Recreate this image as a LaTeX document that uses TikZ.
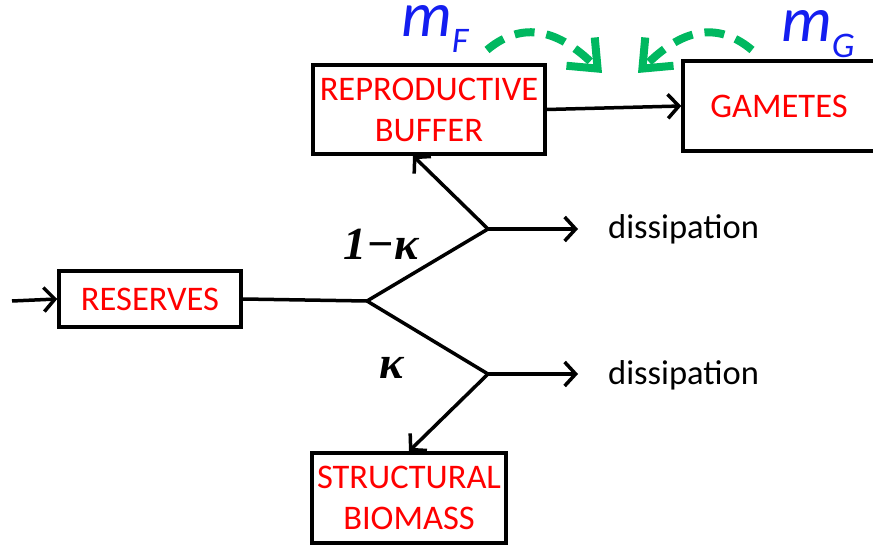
\documentclass[tikz,border=0pt]{standalone}
\usepackage{fontspec}
\setmainfont{Carlito}
\newfontfamily\kfont{Liberation Serif}
\usetikzlibrary{arrows.meta}
\definecolor{boxred}{RGB}{255,0,0}
\definecolor{mblue}{RGB}{20,30,240}
\definecolor{dgreen}{RGB}{0,184,96}
\tikzset{
  box/.style={draw=black, line width=3.5pt, fill=white, inner sep=0pt, align=center,
    text=boxred, font=\fontsize{34.5}{41}\selectfont},
  arr/.style={line width=3.5pt, -{Straight Barb[length=11pt,width=24pt,line width=3.5pt]}},
  conn/.style={line width=3.5pt},
  disstext/.style={inner sep=0pt, anchor=west, font=\fontsize{34.5}{41}\selectfont},
  klabel/.style={inner sep=0pt, anchor=base, font=\kfont\bfseries\itshape\fontsize{46}{46}\selectfont},
  garr/.style={dgreen, line width=8pt, dash pattern=on 20pt off 12pt,
    -{Straight Barb[length=24pt,width=40pt,line width=8pt]}},
  mlabel/.style={inner sep=0pt, anchor=base west, text=mblue}
}
\begin{document}
\begin{tikzpicture}[x=1pt,y=-1pt]
\useasboundingbox (0,0) rectangle (873,545);
% boxes
\node[box, minimum width=232pt, minimum height=89pt] (buf) at (429,109.5) {REPRODUCTIVE\\BUFFER};
\node[box, minimum width=192pt, minimum height=90pt] (gam) at (779,106) {GAMETES};
\node[box, minimum width=182pt, minimum height=56pt] (res) at (150,299) {RESERVES};
\node[box, minimum width=194pt, minimum height=90pt] (str) at (409,498) {STRUCTURAL\\BIOMASS};
% branch points
\coordinate (b0) at (367,301);
\coordinate (bu) at (488,229);
\coordinate (bd) at (488,374);
\coordinate (in) at (12,301);
\coordinate (e1) at (578,229);
\coordinate (e2) at (578,374);
% connectors
\draw[arr] (in) -- (res.west);
\draw[conn] (res.east) -- (b0);
\draw[conn, line join=round] (bu) -- (b0) -- (bd);
\draw[arr] (bu) -- (e1);
\draw[arr] (bd) -- (e2);
\draw[arr] (bu) -- ([xshift=-16pt]buf.south);
\draw[arr] (bd) -- (str.north);
\draw[arr] (buf.east) -- (gam.west);
% labels
\node[disstext] (d1) at (608,229) {dissipation};
\node[disstext] (d2) at (608,375) {dissipation};
\node[klabel] (k1) at (381,260) {1−κ};
\node[klabel] (k2) at (392,378) {κ};
% m labels
\node[mlabel] (mf) at (401,37) {\fontsize{64}{64}\selectfont\itshape\smash{m}\raisebox{-16pt}{\fontsize{36}{36}\selectfont\itshape F}};
\node[mlabel] (mg) at (781,42) {\fontsize{64}{64}\selectfont\itshape\smash{m}\raisebox{-16pt}{\fontsize{36}{36}\selectfont\itshape G}};
% green arcs
\coordinate (g1s) at (487,50);
\coordinate (g1e) at (602,73);
\coordinate (g2s) at (752,50);
\coordinate (g2e) at (638,73);
\draw[garr] (g1s) to[out=40,in=135,looseness=1.15] (g1e);
\draw[garr] (g2s) to[out=140,in=45,looseness=1.15] (g2e);
\end{tikzpicture}
\end{document}
